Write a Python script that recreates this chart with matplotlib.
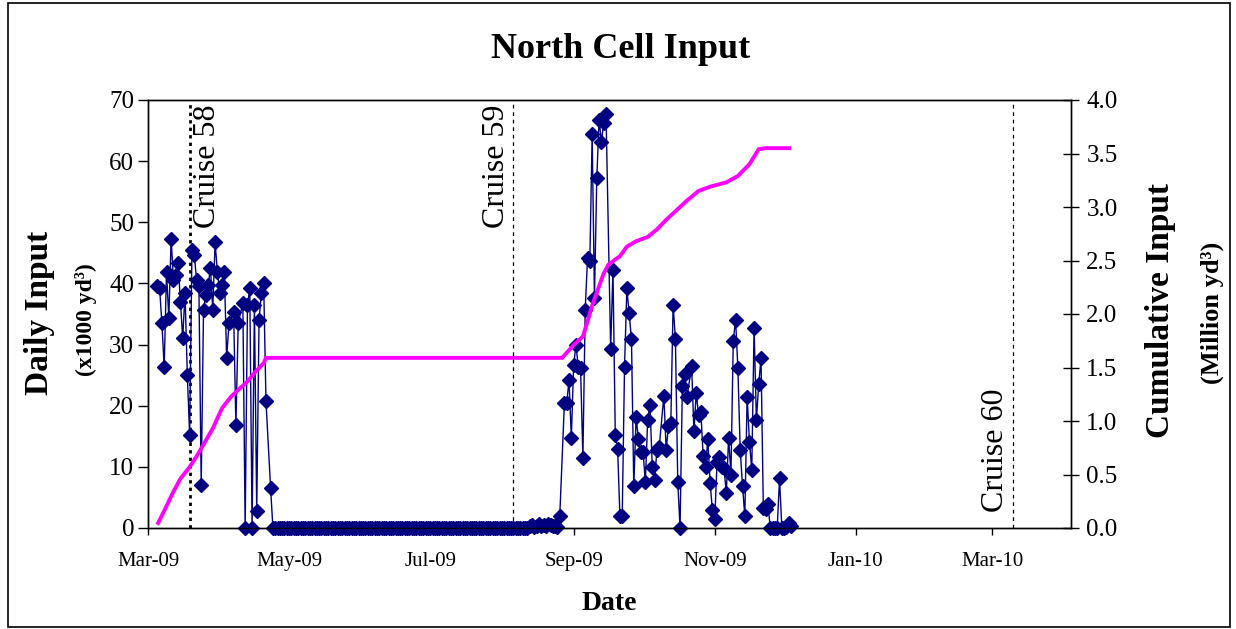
import numpy as np
import pandas as pd
import matplotlib
matplotlib.use("Agg")
import matplotlib.pyplot as plt
import matplotlib.dates as mdates
from matplotlib.patches import Rectangle
from matplotlib.ticker import FormatStrFormatter

plt.rcParams['font.family'] = ['Liberation Serif', 'DejaVu Serif']

BASE = pd.Timestamp("2009-03-01")

# --- Daily input (x1000 yd3), days counted from 2009-03-01 ---
early_days = [4, 5, 6, 7, 8, 9, 10, 11, 12, 13, 14, 15, 16, 17, 18, 19, 20, 21, 22, 23,
              24, 25, 26, 27, 28, 29, 30, 31, 32, 33, 34, 35, 37, 38, 39, 41, 42, 43, 44, 45,
              46, 47, 48, 49, 50, 51, 53]
early_values = [39.5, 39.3, 33.5, 26.3, 41.9, 34.3, 47.3, 40.5, 41.4, 43.3, 37.0, 31.0, 38.4,
                25.0, 15.2, 45.5, 44.7, 40.6, 39.6, 7.0, 35.7, 38.1, 39.7, 42.5, 35.7, 46.7,
                41.9, 38.4, 39.7, 41.8, 27.8, 33.5, 35.4, 16.8, 33.5, 36.8, 0.0, 36.5, 39.2,
                0.0, 36.5, 2.7, 34.0, 38.4, 40.1, 20.7, 6.5]

# idle period: every daily reading is zero
idle_first_day = 54
idle_last_day = 164

low_days = [165, 166, 167, 168, 169, 170, 171, 172, 173, 174, 175, 176, 177]
low_values = [0.3, 0.5, 0.2, 0.4, 0.6, 0.3, 0.5, 0.4, 0.6, 0.5, 0.3, 0.4, 0.2]

late_days = [178, 180, 181, 182, 183, 184, 185, 186, 187, 188, 189, 190, 191, 192, 193, 194,
             195, 196, 197, 198, 200, 201, 202, 203, 204, 205, 206, 207, 208, 209, 210, 211,
             212, 213, 214, 215, 216, 217, 218, 219, 220, 221, 223, 224, 225, 226, 227, 228,
             229, 230, 231, 232, 233, 235, 236, 237, 238, 239, 240, 241, 242, 243, 244, 245,
             246, 247, 248, 249, 250, 251, 252, 253, 254, 255, 256, 257, 258, 259, 260, 261,
             262, 263, 264, 265, 266, 267, 268, 269, 270, 271, 272, 273, 274, 275, 276, 277,
             278]
late_values = [2.0, 20.4, 20.4, 24.2, 14.8, 26.7, 29.9, 26.4, 26.1, 11.4, 35.7, 44.1, 43.6,
               64.4, 37.6, 57.2, 66.8, 63.2, 66.3, 67.7, 29.3, 42.2, 15.2, 13.0, 2.0, 2.0,
               26.4, 39.2, 35.1, 30.9, 6.8, 18.1, 14.6, 12.5, 12.5, 7.5, 17.7, 20.1, 10.0,
               7.9, 12.8, 13.3, 21.6, 12.8, 16.7, 17.2, 36.5, 30.9, 7.6, 0.0, 23.2, 25.2,
               21.4, 26.5, 15.8, 22.1, 18.5, 19.0, 11.7, 9.9, 14.5, 7.3, 2.9, 1.4, 10.8,
               11.6, 10.0, 9.8, 5.7, 14.8, 8.7, 30.6, 34.1, 26.1, 12.8, 6.9, 1.9, 21.5, 14.1,
               9.5, 32.7, 17.7, 23.5, 27.8, 3.2, 3.1, 3.9, 0.0, 0.0, 0.0, 0.0, 8.1, 0.0, 0.0,
               0.2, 0.8, 0.3]

# --- Cumulative input (million yd3) ---
cum_days = [4, 7, 11, 14, 18, 21, 24, 28, 32, 36, 40, 43, 46, 50, 51, 179, 184, 188, 190,
            192, 195, 197, 199, 202, 204, 207, 211, 216, 220, 224, 233, 238, 243, 250, 255,
            260, 264, 267, 278]
cum_values = [0.03, 0.16, 0.34, 0.46, 0.57, 0.67, 0.78, 0.93, 1.12, 1.23, 1.31, 1.37, 1.45,
              1.54, 1.59, 1.59, 1.71, 1.79, 1.93, 2.08, 2.26, 2.38, 2.46, 2.51, 2.54, 2.63,
              2.68, 2.72, 2.79, 2.88, 3.06, 3.15, 3.19, 3.23, 3.29, 3.40, 3.54, 3.55, 3.55]

cruise_names = ["Cruise 58", "Cruise 59", "Cruise 60"]
cruise_dates = ["2009-03-19", "2009-08-06", "2010-03-10"]

x_tick_dates = ["2009-03-01", "2009-05-01", "2009-07-01", "2009-09-01",
                "2009-11-01", "2010-01-01", "2010-03-01"]

# assemble daily series
idle_days = list(range(idle_first_day, idle_last_day + 1))
all_days = early_days + idle_days + low_days + late_days
all_values = early_values + [0.0] * len(idle_days) + low_values + late_values
dates = BASE + pd.to_timedelta(all_days, unit="D")
daily = np.array(all_values)
cum_dates = BASE + pd.to_timedelta(cum_days, unit="D")

fig = plt.figure(figsize=(12.36, 6.29), dpi=100)
W, H = 1236, 629
ax = fig.add_axes([148 / W, 1 - 528 / H, (1071 - 148) / W, (528 - 100) / H])
ax2 = ax.twinx()

navy = "#000080"
ax.plot(dates, daily, color=navy, lw=1.0, marker="D", ms=6.8, mfc=navy, mec=navy,
        clip_on=False, zorder=3)
ax2.plot(cum_dates, cum_values, color="#FF00FF", lw=2.8, solid_capstyle="butt",
         solid_joinstyle="miter", zorder=4)

# cruise lines
styles = [dict(lw=2.0, ls=(0, (1.2, 1.5))), dict(lw=0.9, ls=(0, (3, 3))), dict(lw=0.9, ls=(0, (3, 3)))]
for d, st in zip(cruise_dates, styles):
    ax.axvline(pd.Timestamp(d), color="black", zorder=2, **st)

# cruise labels
lab_y = [49.1, 49.1, 2.6]
lab_dx = [12.5, -12.5, -13]
for name, d, yv, dx in zip(cruise_names, cruise_dates, lab_y, lab_dx):
    ax.annotate(name, xy=(pd.Timestamp(d), yv), xytext=(dx, 0), textcoords="offset points",
                rotation=90, ha="center", va="bottom", fontsize=23)

ax.set_xlim(pd.Timestamp("2009-03-01"), pd.Timestamp("2010-04-04"))
ax.set_ylim(0, 70)
ax2.set_ylim(0, 4.0)
ax.set_yticks(np.arange(0, 71, 10))
ax2.set_yticks(np.arange(0, 4.01, 0.5))
ax2.yaxis.set_major_formatter(FormatStrFormatter("%.1f"))
ax.set_xticks([pd.Timestamp(d) for d in x_tick_dates])
ax.xaxis.set_major_formatter(mdates.DateFormatter("%b-%y"))

ax.tick_params(axis="y", direction="out", length=7, width=1, labelsize=18, pad=3)
ax.tick_params(axis="x", direction="out", length=5, width=1, labelsize=15, pad=12)
ax2.tick_params(axis="y", direction="inout", length=12, width=1, labelsize=18, pad=5)
for a in (ax, ax2):
    for s in a.spines.values():
        s.set_color("black")
        s.set_linewidth(1.0)

fig.text(621 / W, 1 - 50 / H, "North Cell Input", fontsize=26, fontweight="bold",
         ha="center", va="center")
fig.text(40 / W, 1 - 313 / H, "Daily Input", fontsize=24, fontweight="bold",
         rotation=90, ha="center", va="center")
fig.text(86 / W, 1 - 320 / H, "(x1000 yd³)", fontsize=17, fontweight="bold",
         rotation=90, ha="center", va="center")
fig.text(1161 / W, 1 - 311 / H, "Cumulative Input", fontsize=24, fontweight="bold",
         rotation=90, ha="center", va="center")
fig.text(1212 / W, 1 - 313 / H, "(Million yd³)", fontsize=19, fontweight="bold",
         rotation=90, ha="center", va="center")
fig.text(609 / W, 1 - 604 / H, "Date", fontsize=20, fontweight="bold",
         ha="center", va="center")

fig.patches.append(Rectangle((8 / W, 2 / H), (1230 - 8) / W, (626 - 2) / H, fill=False,
                             ec="black", lw=1.2, transform=fig.transFigure, figure=fig))

fig.savefig("out.png", dpi=100)
